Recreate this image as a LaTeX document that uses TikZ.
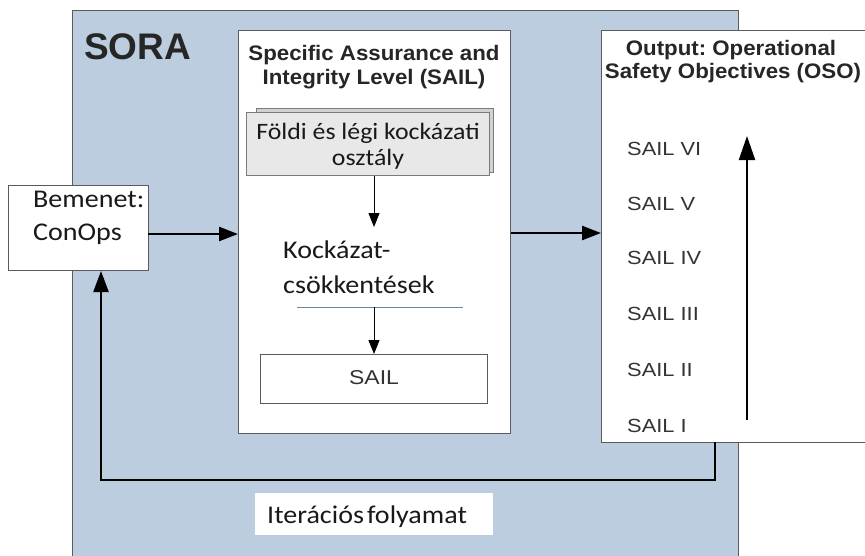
\documentclass[tikz,border=0pt]{standalone}
\usepackage{fontspec}
\setmainfont{Carlito}
\newfontfamily\calw[FakeStretch=1.1]{Carlito}
\newfontfamily\arialw[FakeStretch=1.15]{Liberation Sans}
\newfontfamily\arialb[FakeStretch=1.06]{Liberation Sans}
\newfontfamily\arial{Liberation Sans}
\usetikzlibrary{arrows.meta}
\definecolor{sorablue}{HTML}{BCCDE0}
\definecolor{frame}{HTML}{5A5A5A}
\definecolor{grayfill}{HTML}{E8E8E8}
\definecolor{sailtext}{HTML}{333333}
\definecolor{sepline}{HTML}{6F8399}
\frenchspacing
\tikzset{
  boxw/.style={draw=frame, line width=1pt, fill=white},
  bigarrow/.style={line width=2.4pt, -{Triangle[length=19pt,width=14pt]}},
  thinarrow/.style={line width=0.9pt, -{Triangle[length=14pt,width=11pt]}},
  cal/.style={font=\calw\fontsize{25.5}{30}\selectfont, inner sep=0pt, text=black!90},
  sailitem/.style={font=\arialw\fontsize{19}{22}\selectfont, text=sailtext, anchor=base west, inner sep=0pt},
  ttl/.style={font=\arialb\bfseries\fontsize{21}{25}\selectfont, anchor=base, inner sep=0pt, text=black!85}
}
\begin{document}
\begin{tikzpicture}[x=1pt,y=-1pt]
\useasboundingbox (0,0) rectangle (865,555);
% SORA background
\fill[sorablue] (72,10) rectangle (738,556);
\draw[frame, line width=1pt] (72,556) -- (72,10) -- (738,10) -- (738,556);
\node[font=\arial\bfseries\fontsize{37}{40}\selectfont, anchor=west, inner sep=0pt, text=black!85] (sora) at (84,47) {SORA};
% SAIL box
\node[boxw, minimum width=272pt, minimum height=403pt, anchor=north west] (sailbox) at (238,30) {};
\node[ttl] (sailttl1) at (374,60) {Specific Assurance and};
\node[ttl] (sailttl2) at (374,84) {Integrity Level (SAIL)};
% gray box with stacked back
\draw[draw=frame!80, fill=grayfill!90!black, line width=0.8pt] (256,108) rectangle (493,172);
\node[draw=frame!80, fill=grayfill, line width=0.8pt, minimum width=243pt, minimum height=63pt, anchor=north west] (risk) at (246,112) {};
\node[cal, font=\calw\fontsize{23.5}{28}\selectfont, anchor=base] (risk1) at (368,139) {Földi és légi kockázati};
\node[cal, font=\calw\fontsize{23.5}{28}\selectfont, anchor=base] (risk2) at (368,165) {osztály};
% Kockázat-csökkentések
\node[cal, anchor=base west] (mit1) at (283,258) {Kockázat-};
\node[cal, anchor=base west] (mit2) at (283,293) {csökkentések};
\coordinate (lineL) at (297,307);
\coordinate (lineR) at (463,307);
\draw[sepline, line width=0.8pt] (lineL) -- (lineR);
\coordinate (lineM) at (374,307);
% SAIL result box
\node[draw=frame, line width=1pt, fill=white, minimum width=227pt, minimum height=49pt, anchor=north west] (sail) at (260,354) {};
\node[font=\arialw\fontsize{20}{22}\selectfont, text=sailtext, anchor=base, inner sep=0pt] (sailtxt) at (374,384) {SAIL};
\draw[thinarrow] (risk.south -| lineM) -- (374,227);
\draw[thinarrow] (lineM) -- (sail.north -| lineM);
% Bemenet
\node[boxw, minimum width=140pt, minimum height=85pt, anchor=north west] (inp) at (8,185) {};
\node[cal, anchor=base west] (inp1) at (33,207) {Bemenet:};
\node[cal, anchor=base west] (inp2) at (33,240) {ConOps};
% OSO box
\node[boxw, minimum width=280pt, minimum height=412pt, anchor=north west] (oso) at (601,30) {};
\node[ttl] (osottl1) at (731,55) {Output: Operational};
\node[ttl] (osottl2) at (733,78) {Safety Objectives (OSO)};
\node[sailitem] (s6) at (627,155) {SAIL VI};
\node[sailitem] (s5) at (627,210) {SAIL V};
\node[sailitem] (s4) at (627,264) {SAIL IV};
\node[sailitem] (s3) at (627,320) {SAIL III};
\node[sailitem] (s2) at (627,376) {SAIL II};
\node[sailitem] (s1) at (627,432) {SAIL I};
\coordinate (upB) at (747,420);
\coordinate (upT) at (747,136);
\draw[line width=2pt, -{Triangle[length=24pt,width=16pt]}] (upB) -- (upT);
% main arrows
\draw[bigarrow] (148,234) -- (sailbox.west |- 0,234);
\draw[bigarrow] (sailbox.east |- 0,233) -- (oso.west |- 0,233);
% feedback loop
\coordinate (fbA) at (715,442);
\coordinate (fbB) at (715,480);
\coordinate (fbC) at (101,480);
\draw[line width=2.4pt, line join=miter, -{Triangle[length=21pt,width=15pt]}] (fbA) -- (fbB) -- (fbC) -- (fbC |- inp.south);
\node[fill=white, minimum width=238pt, minimum height=42pt, anchor=north west, inner sep=0pt] (iterbg) at (255,493) {};
\node[cal, anchor=base west] (iter) at (267,523) {Iterációs\hspace{3pt}folyamat};
\end{tikzpicture}
\end{document}
